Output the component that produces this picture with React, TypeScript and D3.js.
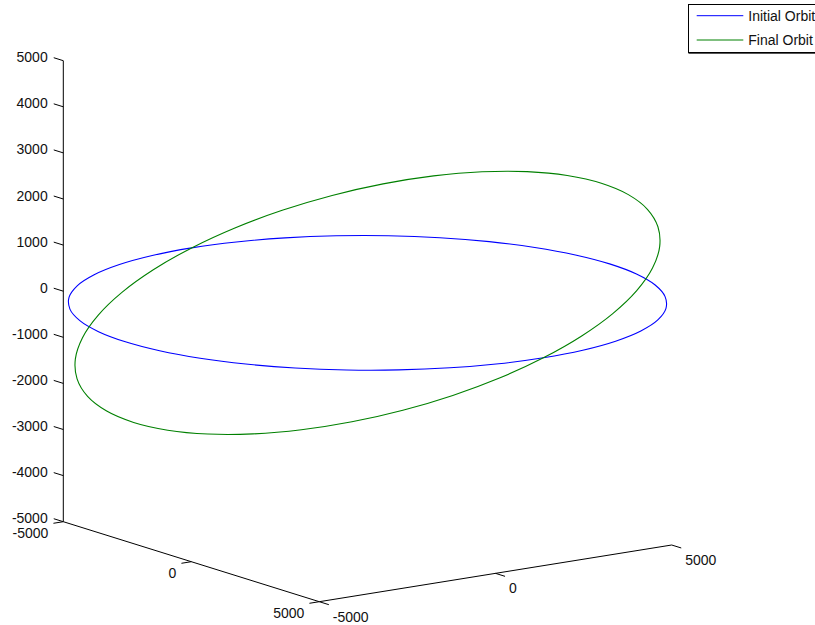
import React from 'react';
import * as d3 from 'd3';

// ---- Data (km) ----
// Left horizontal axis = X, right horizontal axis = Y, vertical = Z
const initialOrbitX = [6870, 6766, 6456, 5949, 5262, 4416, 3435, 2350, 1193, 0, -1193, -2350, -3435, -4416, -5262, -5949, -6456, -6766, -6870, -6766, -6456, -5949, -5262, -4416, -3435, -2350, -1193, 0, 1193, 2350, 3435, 4416, 5262, 5949, 6456, 6766];
const initialOrbitY = [0, 1193, 2350, 3435, 4416, 5262, 5949, 6456, 6766, 6870, 6766, 6456, 5949, 5262, 4416, 3435, 2350, 1193, 0, -1193, -2350, -3435, -4416, -5262, -5949, -6456, -6766, -6870, -6766, -6456, -5949, -5262, -4416, -3435, -2350, -1193];
const initialOrbitZ = [0, 0, 0, 0, 0, 0, 0, 0, 0, 0, 0, 0, 0, 0, 0, 0, 0, 0, 0, 0, 0, 0, 0, 0, 0, 0, 0, 0, 0, 0, 0, 0, 0, 0, 0, 0];

const finalOrbitX = [6870, 6766, 6456, 5949, 5262, 4416, 3435, 2350, 1193, 0, -1193, -2350, -3435, -4416, -5262, -5949, -6456, -6766, -6870, -6766, -6456, -5949, -5262, -4416, -3435, -2350, -1193, 0, 1193, 2350, 3435, 4416, 5262, 5949, 6456, 6766];
const finalOrbitY = [0, 1152, 2270, 3318, 4265, 5083, 5746, 6236, 6535, 6636, 6535, 6236, 5746, 5083, 4265, 3318, 2270, 1152, 0, -1152, -2270, -3318, -4265, -5083, -5746, -6236, -6535, -6636, -6535, -6236, -5746, -5083, -4265, -3318, -2270, -1152];
const finalOrbitZ = [0, 309, 608, 889, 1143, 1362, 1540, 1671, 1751, 1778, 1751, 1671, 1540, 1362, 1143, 889, 608, 309, 0, -309, -608, -889, -1143, -1362, -1540, -1671, -1751, -1778, -1751, -1671, -1540, -1362, -1143, -889, -608, -309];

const seriesNames = ['Initial Orbit', 'Final Orbit'];
const seriesColors = ['#0000ff', '#008000'];

const xTicks = [-5000, 0, 5000];
const xTickLabels = ['-5000', '0', '5000'];
const yTicks = [-5000, 0, 5000];
const yTickLabels = ['-5000', '0', '5000'];
const zTicks = [-5000, -4000, -3000, -2000, -1000, 0, 1000, 2000, 3000, 4000, 5000];
const zTickLabels = ['-5000', '-4000', '-3000', '-2000', '-1000', '0', '1000', '2000', '3000', '4000', '5000'];

const W = 815;
const H = 625;
// projected box geometry
const ORIGIN: [number, number] = [63.3, 521.7]; // (xmin, ymin, zmin)
const EX: [number, number] = [256, 80];
const EY: [number, number] = [352.4, -56.7];
const EZ: [number, number] = [0, -461];
const TICK = 10;
const FONT = '"Liberation Sans", Arial, Helvetica, sans-serif';

const xs = d3.scaleLinear().domain([-5000, 5000]).range([0, 1]);
const ys = d3.scaleLinear().domain([-5000, 5000]).range([0, 1]);
const zs = d3.scaleLinear().domain([-5000, 5000]).range([0, 1]);

function proj(x: number, y: number, z: number): [number, number] {
  const a = xs(x), b = ys(y), c = zs(z);
  return [
    ORIGIN[0] + a * EX[0] + b * EY[0] + c * EZ[0],
    ORIGIN[1] + a * EX[1] + b * EY[1] + c * EZ[1],
  ];
}
function unit(v: [number, number]): [number, number] {
  const l = Math.hypot(v[0], v[1]);
  return [v[0] / l, v[1] / l];
}

export default function App() {
  const ux = unit(EX);
  const uy = unit(EY);
  const line = d3.line<[number, number]>().curve(d3.curveCatmullRomClosed);
  const orbits = [
    { x: initialOrbitX, y: initialOrbitY, z: initialOrbitZ },
    { x: finalOrbitX, y: finalOrbitY, z: finalOrbitZ },
  ];

  const zAxisBottom = proj(-5000, -5000, -5000);
  const zAxisTop = proj(-5000, -5000, 5000);
  const xAxisEnd = proj(5000, -5000, -5000);
  const yAxisEnd = proj(5000, 5000, -5000);

  return (
    <svg width={W} height={H} style={{ position: 'absolute', left: 0, top: 0, background: '#fff' }}>
      <rect x={0} y={0} width={W} height={H} fill="#fff" />
      {/* axes lines */}
      <g stroke="#000" strokeWidth={1} fill="none">
        <line x1={zAxisBottom[0]} y1={zAxisBottom[1]} x2={zAxisTop[0]} y2={zAxisTop[1]} />
        <line x1={zAxisBottom[0]} y1={zAxisBottom[1]} x2={xAxisEnd[0]} y2={xAxisEnd[1]} />
        <line x1={xAxisEnd[0]} y1={xAxisEnd[1]} x2={yAxisEnd[0]} y2={yAxisEnd[1]} />
        {zTicks.map((t) => {
          const p = proj(-5000, -5000, t);
          return <line key={'zt' + t} x1={p[0]} y1={p[1]} x2={p[0] - ux[0] * TICK} y2={p[1] - ux[1] * TICK} />;
        })}
        {xTicks.map((t) => {
          const p = proj(t, -5000, -5000);
          return <line key={'xt' + t} x1={p[0]} y1={p[1]} x2={p[0] - uy[0] * TICK} y2={p[1] - uy[1] * TICK} />;
        })}
        {yTicks.map((t) => {
          const p = proj(5000, t, -5000);
          return <line key={'yt' + t} x1={p[0]} y1={p[1]} x2={p[0] + ux[0] * TICK} y2={p[1] + ux[1] * TICK} />;
        })}
      </g>
      {/* tick labels */}
      <g fontFamily={FONT} fontSize={14} fill="#111">
        {zTicks.map((t, i) => {
          const p = proj(-5000, -5000, t);
          return (
            <text key={'zl' + t} x={p[0] - 15.6} y={p[1] - 3.5} textAnchor="end" dominantBaseline="central">
              {zTickLabels[i]}
            </text>
          );
        })}
        {xTicks.map((t, i) => {
          const p = proj(t, -5000, -5000);
          return (
            <text key={'xl' + t} x={p[0] - 15} y={p[1] + 11.5} textAnchor="end" dominantBaseline="central">
              {xTickLabels[i]}
            </text>
          );
        })}
        {yTicks.map((t, i) => {
          const p = proj(5000, t, -5000);
          return (
            <text key={'yl' + t} x={p[0] + 13.5} y={p[1] + 15} textAnchor="start" dominantBaseline="central">
              {yTickLabels[i]}
            </text>
          );
        })}
      </g>
      {/* orbits */}
      {orbits.map((o, k) => {
        const pts = o.x.map((xv, i) => proj(xv, o.y[i], o.z[i]));
        return <path key={'orb' + k} d={line(pts) || ''} fill="none" stroke={seriesColors[k]} strokeWidth={1.1} />;
      })}
      {/* legend */}
      <g>
        <rect x={688.5} y={4.5} width={140} height={48} fill="#fff" stroke="#000" strokeWidth={1} />
        <line x1={688.5} y1={53.5} x2={830} y2={53.5} stroke="#555" strokeWidth={1} />
        {seriesNames.map((n, i) => (
          <g key={n}>
            <line x1={696.7} x2={743.3} y1={15.7 + i * 24.3} y2={15.7 + i * 24.3} stroke={seriesColors[i]} strokeWidth={1} />
            <text x={748.3} y={15.7 + i * 24.3} dominantBaseline="central" fontFamily={FONT} fontSize={14} fill="#111">
              {n}
            </text>
          </g>
        ))}
      </g>
    </svg>
  );
}
